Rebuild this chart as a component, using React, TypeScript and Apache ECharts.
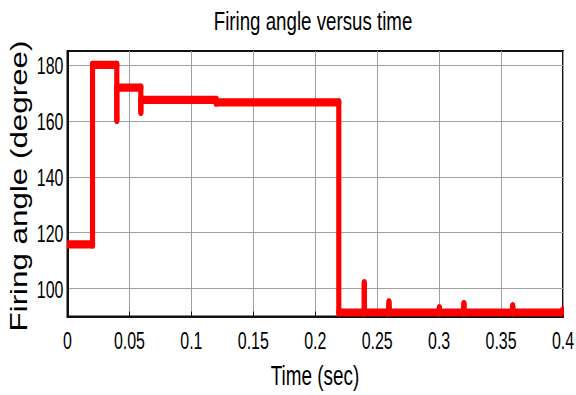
import React, { useEffect, useRef } from "react";
import * as echarts from "echarts";

// Step response of the firing angle
const timeSec = [
  0, 0.0202, 0.0202, 0.0398, 0.0398, 0.0398, 0.0592, 0.0592, 0.0592, 0.12, 0.12,
  0.219, 0.219, 0.2396, 0.2396, 0.2396, 0.259, 0.2595, 0.26, 0.2997, 0.3002, 0.3007,
  0.3195, 0.32, 0.3205, 0.3589, 0.3594, 0.3599, 0.3985, 0.4,
];
const firingAngleDeg = [
  115.8, 115.8, 180, 180, 160.4, 171.9, 171.9, 163.3, 167.5, 167.5, 166.6,
  166.6, 91.4, 91.4, 101.8, 91.4, 91.4, 95, 91.4, 91.4, 92.9, 91.4,
  91.4, 94.4, 91.4, 91.4, 93.6, 91.4, 91.4, 92.3,
];

const xTickValues = [0, 0.05, 0.1, 0.15, 0.2, 0.25, 0.3, 0.35, 0.4];
const xTickLabels = ["0", "0.05", "0.1", "0.15", "0.2", "0.25", "0.3", "0.35", "0.4"];
const yTickValues = [100, 120, 140, 160, 180];
const yTickLabels = ["100", "120", "140", "160", "180"];

const chartTitle = "Firing angle versus time";
const xAxisTitle = "Time (sec)";
const yAxisTitle = "Firing angle (degree)";

const FONT = "'Liberation Sans', Arial, Helvetica, sans-serif";
const LINE_SQUASH = 0.62;
const LINE_W = 8.3;
const TEXT_SQUASH = 0.68;

export default function App() {
  const ref = useRef<HTMLDivElement>(null);

  useEffect(() => {
    const el = ref.current!;
    const chart = echarts.init(el, null, { renderer: "svg" });
    const points = timeSec.map((t, i) => [t, firingAngleDeg[i]]);

    chart.setOption({
      animation: false,
      backgroundColor: "#ffffff",
      grid: {
        left: 67.5,
        right: 13,
        top: 51,
        bottom: 78.5,
        show: true,
        borderColor: "#111",
        borderWidth: 2,
        backgroundColor: "transparent",
      },
      xAxis: {
        type: "value",
        min: 0,
        max: 0.4,
        interval: 0.05,
        axisLine: { show: true, onZero: false, lineStyle: { color: "#111", width: 2 } },
        axisTick: { show: true, inside: true, length: 5, lineStyle: { color: "#111", width: 1 } },
        axisLabel: { show: false },
        splitLine: { show: true, lineStyle: { color: "#a0a0a0", width: 1 } },
      },
      yAxis: {
        type: "value",
        min: 90,
        max: 185,
        interval: 10,
        axisLine: { show: true, onZero: false, lineStyle: { color: "#111", width: 2 } },
        axisTick: { show: false },
        axisLabel: { show: false },
        splitLine: {
          show: true,
          lineStyle: { color: ["rgba(0,0,0,0)", "#a0a0a0"], width: 1 },
        },
      },
      series: [
        {
          type: "custom",
          clip: true,
          data: points,
          encode: { x: 0, y: 1 },
          renderItem: (params: any, api: any) => {
            const i = params.dataIndexInside;
            if (i >= params.dataInsideLength - 1) return null;
            const p0 = api.coord([api.value(0, i), api.value(1, i)]);
            const p1 = api.coord([api.value(0, i + 1), api.value(1, i + 1)]);
            return {
              type: "group",
              scaleX: LINE_SQUASH,
              children: [
                {
                  type: "polyline",
                  shape: {
                    points: [
                      [p0[0] / LINE_SQUASH, p0[1]],
                      [p1[0] / LINE_SQUASH, p1[1]],
                    ],
                  },
                  style: { stroke: "#ff0000", lineWidth: LINE_W, lineCap: "round", fill: "none" },
                },
              ],
            };
          },
        },
      ],
    });

    const textStyle = (text: string, size: number, align: string, vAlign: string) => ({
      text,
      fontSize: size,
      fontFamily: FONT,
      fill: "#000",
      align,
      textAlign: align,
      verticalAlign: vAlign,
      textVerticalAlign: vAlign,
    });

    const gfx: any[] = [];
    xTickValues.forEach((v, i) => {
      const p = chart.convertToPixel({ gridIndex: 0 }, [v, 90]) as number[];
      gfx.push({
        type: "text",
        x: p[0],
        y: p[1] + 24,
        scaleX: TEXT_SQUASH,
        silent: true,
        style: textStyle(xTickLabels[i], 23.5, "center", "middle"),
      });
    });
    yTickValues.forEach((v, i) => {
      const p = chart.convertToPixel({ gridIndex: 0 }, [0, v]) as number[];
      gfx.push({
        type: "text",
        x: p[0] - 4,
        y: p[1] + 1,
        scaleX: TEXT_SQUASH,
        silent: true,
        style: textStyle(yTickLabels[i], 23.5, "right", "middle"),
      });
    });
    gfx.push({
      type: "text",
      x: 313,
      y: 21,
      scaleX: 0.72,
      silent: true,
      style: textStyle(chartTitle, 26, "center", "middle"),
    });
    gfx.push({
      type: "text",
      x: 315,
      y: 376,
      scaleX: 0.7,
      silent: true,
      style: textStyle(xAxisTitle, 27, "center", "middle"),
    });
    gfx.push({
      type: "text",
      x: 19,
      y: 186,
      rotation: Math.PI / 2,
      scaleX: 0.98,
      scaleY: 0.72,
      silent: true,
      style: textStyle(yAxisTitle, 32, "center", "middle"),
    });
    chart.setOption({ graphic: gfx });

    return () => chart.dispose();
  }, []);

  return (
    <div
      ref={ref}
      style={{ position: "fixed", left: 0, top: 0, width: 576, height: 395, background: "#fff" }}
    />
  );
}
